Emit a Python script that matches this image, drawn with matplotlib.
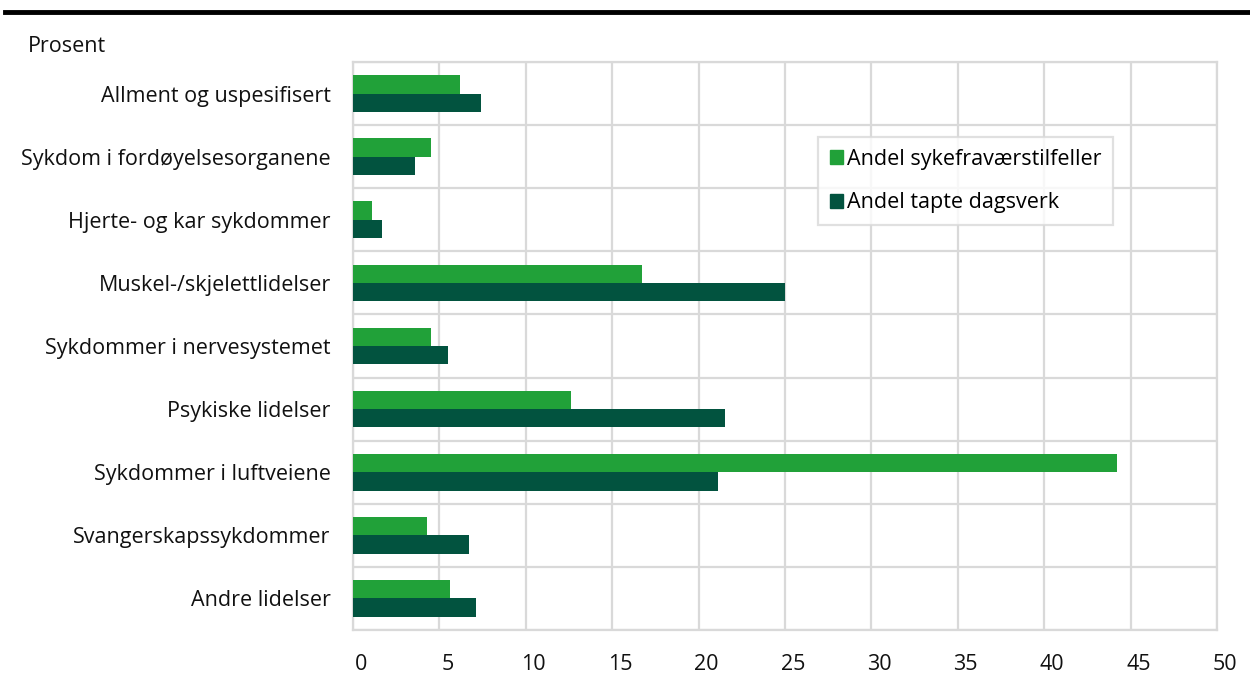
import matplotlib.pyplot as plt
import matplotlib.transforms as mtransforms
import numpy as np
from matplotlib.lines import Line2D
from matplotlib.patches import Patch

plt.rcParams['font.family'] = ['Open Sans', 'DejaVu Sans']

categories = ['Allment og uspesifisert', 'Sykdom i fordøyelsesorganene',
              'Hjerte- og kar sykdommer', 'Muskel-/skjelettlidelser',
              'Sykdommer i nervesystemet', 'Psykiske lidelser',
              'Sykdommer i luftveiene', 'Svangerskapssykdommer', 'Andre lidelser']
tilfeller = [6.2, 4.5, 1.1, 16.7, 4.5, 12.6, 44.2, 4.3, 5.6]
dagsverk = [7.4, 3.6, 1.7, 25.0, 5.5, 21.5, 21.1, 6.7, 7.1]
series_names = ['Andel sykefraværstilfeller', 'Andel tapte dagsverk']
xticks = [0, 5, 10, 15, 20, 25, 30, 35, 40, 45, 50]

green = '#21a139'
dark = '#02533f'
grid_c = '#d9d9d9'
text_c = '#111111'
fs = 15.5

fig = plt.figure(figsize=(12.5, 6.8), dpi=100)
ax = fig.add_axes([0.2824, 0.0735, 0.6912, 0.8353])

y = np.arange(len(categories))
h = 0.29
ax.barh(y - h / 2, tilfeller, height=h, color=green, zorder=3)
ax.barh(y + h / 2, dagsverk, height=h, color=dark, zorder=3)

ax.set_xlim(0, 50)
ax.set_ylim(len(categories) - 0.5, -0.5)
ax.set_xticks(xticks)
ax.set_xticklabels([str(t) for t in xticks])
ax.set_yticks(y)
ax.set_yticklabels(categories)
ax.set_yticks(np.arange(len(categories) + 1) - 0.5, minor=True)
ax.tick_params(axis='both', which='both', length=0, labelsize=fs, colors=text_c)
ax.tick_params(axis='x', pad=17)
ax.tick_params(axis='y', pad=16)
ax.grid(axis='x', which='major', color=grid_c, linewidth=1.6, zorder=0)
ax.grid(axis='y', which='minor', color=grid_c, linewidth=1.6, zorder=0)
for s in ax.spines.values():
    s.set_color(grid_c)
    s.set_linewidth(1.6)

# x labels sit a little right of their gridlines in the original
shift = mtransforms.ScaledTranslation(0.08, 0, fig.dpi_scale_trans)
for lbl in ax.get_xticklabels():
    lbl.set_transform(lbl.get_transform() + shift)

handles = [Patch(color=green), Patch(color=dark)]
leg = ax.legend(handles, series_names, loc='upper left', bbox_to_anchor=(0.538, 0.868),
                borderaxespad=0, fontsize=fs, frameon=True, fancybox=False,
                handlelength=0.6, handleheight=0.6, handletextpad=0.2,
                labelspacing=1.05, borderpad=0.55)
leg.get_frame().set_edgecolor(grid_c)
leg.get_frame().set_linewidth(1.6)

fig.add_artist(Line2D([0.004, 1.0], [0.982, 0.982], color='black', linewidth=3.5))
fig.text(0.0224, 0.932, 'Prosent', fontsize=fs, va='center', ha='left', color=text_c)

fig.savefig('out.png', dpi=100)
